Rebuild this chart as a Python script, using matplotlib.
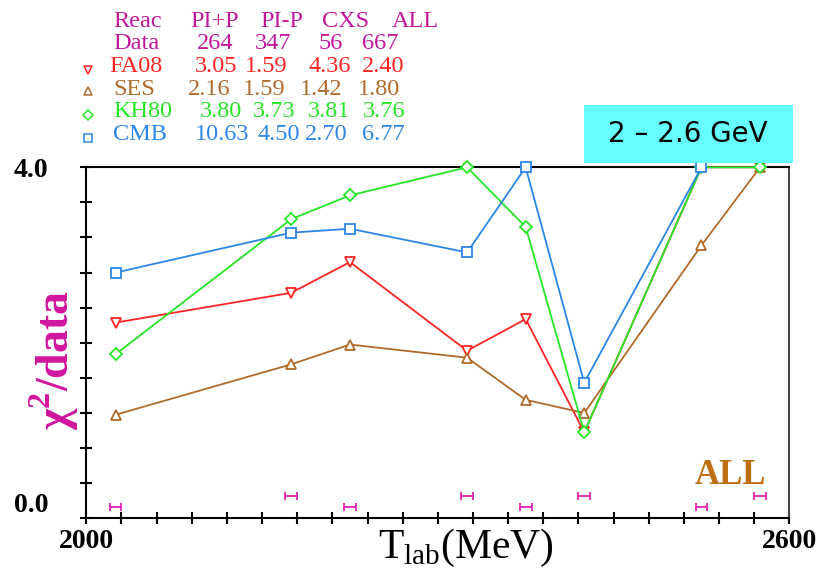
import matplotlib
matplotlib.use('Agg')
import matplotlib.pyplot as plt
from matplotlib.lines import Line2D
from matplotlib.patches import Rectangle
import numpy as np

# energies (MeV) and chi2/data per solution, values above 4 drawn at the 4.0 limit
energy = [2025, 2175, 2225, 2325, 2375, 2425, 2525, 2575]
fa08 = [2.23, 2.57, 2.92, 1.91, 2.27, 0.98, 4.0, 4.0]
ses = [1.18, 1.755, 1.98, 1.83, 1.35, 1.20, 3.11, 4.0]
kh80 = [1.87, 3.41, 3.68, 4.0, 3.32, 0.98, 4.0, 4.0]
cmb = [2.80, 3.255, 3.30, 3.03, 4.0, 1.545, 4.0]
bin_halfwidth = 5

# summary table
reactions = ['PI+P', 'PI-P', 'CXS', 'ALL']
n_data = ['264', '347', '56', '667']
names = ['FA08', 'SES', 'KH80', 'CMB']
chi2 = [['3.05', '1.59', '4.36', '2.40'],
        ['2.16', '1.59', '1.42', '1.80'],
        ['3.80', '3.73', '3.81', '3.76'],
        ['10.63', '4.50', '2.70', '6.77']]

colors = ['#ff2424', '#b06a2c', '#26e626', '#2c86e6']
markers = ['v', '^', 'D', 's']
magenta = '#c0189c'

W, H = 821, 571
fig = plt.figure(figsize=(W / 100, H / 100), dpi=100)
ax = fig.add_axes([86.3 / W, 1 - 518.3 / H, 703 / W, 351 / H])

def px(x, y):
    return x / W, 1 - y / H

serif = 'Liberation Serif'
plt.rcParams['mathtext.fontset'] = 'custom'
plt.rcParams['mathtext.rm'] = serif
plt.rcParams['mathtext.bf'] = serif + ':bold'

series = [fa08, ses, kh80, cmb]
for vals, c, m in zip(series, colors, markers):
    ms = 6.5 if m == 'D' else 7.5
    ax.plot(energy[:len(vals)], vals, color=c, lw=1.3, marker=m, ms=ms,
            mfc='white', mec=c, mew=1.3, clip_on=False, zorder=3)

# energy bins along the bottom
for i, e in enumerate(energy):
    yb = 0.125 if i % 2 == 0 else 0.258
    ax.errorbar([e], [yb], xerr=bin_halfwidth, fmt='none', ecolor='#e020b0',
                elinewidth=1.3, capsize=3.2, capthick=1.3)

ax.set_xlim(2000, 2600)
ax.set_ylim(0, 4)
ax.set_xticks(np.arange(2000, 2601, 30))
ax.set_xticklabels(['2000'] + [''] * 19 + ['2600'])
ax.set_yticks(np.arange(0, 4.01, 0.4))
ax.set_yticklabels(['0.0'] + [''] * 9 + ['4.0'])
ax.tick_params(direction='inout', length=9, width=1.5, top=False, right=False)
ax.tick_params(axis='x', pad=3)
ax.tick_params(axis='y', pad=23)
for lab in ax.get_xticklabels() + ax.get_yticklabels():
    lab.set_fontfamily(serif)
    lab.set_fontweight('bold')
    lab.set_fontsize(20)
ax.get_yticklabels()[0].set_va('bottom')
for s in ['left', 'bottom', 'top']:
    ax.spines[s].set_linewidth(1.5)
ax.spines['right'].set_linewidth(1.5)
ax.spines['right'].set_color('#444444')

fig.text(*px(466, 558), r'T$_{\mathrm{lab}}$(MeV)', family=serif, fontsize=30,
         ha='center', va='baseline')
fig.text(*px(54, 360), r'$\mathbf{\chi}^\mathbf{2}$/data', family=serif, fontsize=33,
         fontweight='bold', color='#d0169e', rotation=90, ha='center', va='center')

ax.text(0.916, 0.098, 'ALL', transform=ax.transAxes, family=serif, fontsize=25,
        fontweight='bold', color='#bf6e14', ha='center', va='baseline')

# energy range box
fig.patches.append(Rectangle(px(584, 163), 209 / W, 58 / H, transform=fig.transFigure,
                             facecolor='#66ffff', edgecolor='none'))
fig.text(*px(688, 134), '2 \u2013 2.6 GeV', fontsize=20, family='DejaVu Sans',
         ha='center', va='center')

# table
tsize = 17.5
fig.text(*px(113, 27), 'Reac', family=serif, fontsize=tsize, color=magenta)
for x, t in zip([190, 260, 322, 392], reactions):
    fig.text(*px(x, 27), t, family=serif, fontsize=tsize, color=magenta)
fig.text(*px(113, 49), 'Data', family=serif, fontsize=tsize, color=magenta)
for x, t in zip([197, 255, 318, 362], n_data):
    fig.text(*px(x, 49), t, family=serif, fontsize=tsize, color=magenta)

cell_x = [[195, 245, 308, 362],
          [188, 243, 300, 358],
          [200, 253, 308, 363],
          [195, 258, 305, 362]]
name_x = [109, 113, 113, 113]
row_y = [72, 95, 117, 140]
mark_y = [70, 91, 115, 138]
for i in range(4):
    fig.text(*px(name_x[i], row_y[i]), names[i], family=serif, fontsize=tsize,
             color=colors[i])
    for x, t in zip(cell_x[i], chi2[i]):
        fig.text(*px(x, row_y[i]), t, family=serif, fontsize=tsize, color=colors[i])
    mx, my = px(88, mark_y[i])
    fig.lines.append(Line2D([mx], [my], transform=fig.transFigure, marker=markers[i],
                            ms=5 if markers[i] == 'D' else 6, mfc='white',
                            mec=colors[i], mew=1.1, ls='none'))

fig.savefig('out.png', dpi=100)
